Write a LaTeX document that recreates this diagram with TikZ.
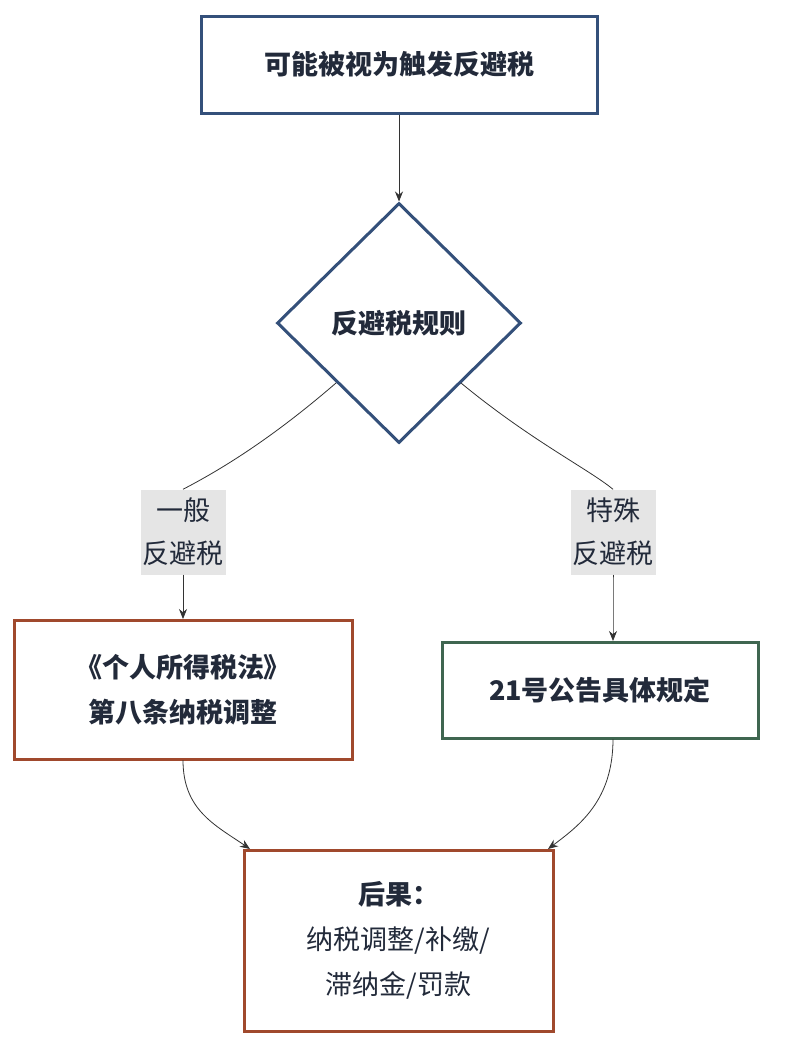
\documentclass[tikz,border=0pt]{standalone}
\usepackage{fontspec}
\setmainfont{Noto Sans CJK SC}
\usetikzlibrary{shapes.geometric,arrows.meta}
\definecolor{navy}{HTML}{34507A}
\definecolor{rust}{HTML}{A0492D}
\definecolor{grn}{HTML}{3F6650}
\definecolor{txt}{HTML}{222A3A}
\begin{document}
\begin{tikzpicture}[x=1pt,y=-1pt,
 box/.style={draw=#1,line width=3pt,fill=white,text=txt,font=\fontsize{27}{45}\selectfont\bfseries,align=center,inner sep=0},
 lab/.style={fill=black!10,text=txt,font=\fontsize{27}{43}\selectfont,align=center,inner sep=0,minimum width=85,minimum height=85},
 arr/.style={draw=black!80,line width=0.8pt,-{Stealth[length=10pt,width=8pt]}}]
\useasboundingbox (0,0) rectangle (800,1053);
\node[box=navy,minimum width=396,minimum height=97] (top) at (399,64.5) {可能被视为触发反避税};
\node[box=navy,diamond,minimum width=244,minimum height=240] (dia) at (399,323) {};
\node[text=txt,font=\fontsize{27}{45}\selectfont\bfseries] at (dia) {反避税规则};
\node[box=rust,minimum width=338,minimum height=139] (l) at (183,689.5) {《个人所得税法》\\第八条纳税调整};
\node[box=grn,minimum width=316,minimum height=96] (r) at (600,690) {21号公告具体规定};
\node[box=rust,minimum width=309,minimum height=181] (b) at (398.5,940.5) {后果：\\\mdseries 纳税调整/补缴/\\\mdseries 滞纳金/罚款};
\node[lab] (ll) at (183,532) {一般\\反避税};
\node[lab] (rl) at (613,532) {特殊\\反避税};
\draw[arr] (top) -- (dia);
\draw[draw=black!80,line width=0.8pt] (336,383) .. controls (270,440) and (220,470) .. (ll.north);
\draw[arr] (ll.south) -- (183,619);
\draw[draw=black!80,line width=0.8pt] (461,383) .. controls (530,440) and (590,470) .. (rl.north);
\draw[arr] (rl.south) .. controls (613,600) and (613,620) .. (613,641);
\draw[arr] (183,760) .. controls (183,810) and (215,825) .. (250,849);
\draw[arr] (613,739) .. controls (613,800) and (580,825) .. (548,849);
\end{tikzpicture}
\end{document}
